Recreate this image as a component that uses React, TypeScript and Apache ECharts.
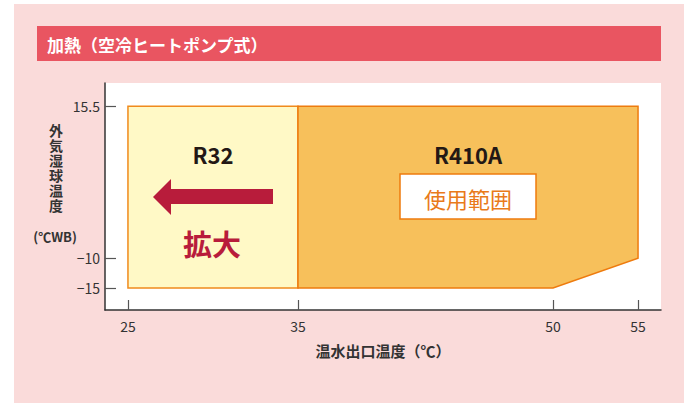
import React, { useEffect, useRef } from "react";
import * as echarts from "echarts";

const title = "加熱（空冷ヒートポンプ式）";
const xName = "温水出口温度（℃）";
const yNameChars = ["外", "気", "湿", "球", "温", "度"];
const yUnit = "(℃WB)";
const xTicks = [25, 35, 50, 55];
const yTicks = [15.5, -10, -15];
const yTickLabels = ["15.5", "−10", "−15"];

// Operating ranges: [outlet water temp, outdoor wet-bulb temp]
const r32Name = "R32";
const r32Range: number[][] = [
  [25, -15],
  [25, 15.5],
  [35, 15.5],
  [35, -15],
];
const r410Name = "R410A";
const r410Range: number[][] = [
  [35, -15],
  [35, 15.5],
  [55, 15.5],
  [55, -10],
  [50, -15],
];
const rangeLabel = "使用範囲";
const expandLabel = "拡大";

const FONT = "'Noto Sans CJK JP', 'Noto Sans', sans-serif";

export default function App() {
  const ref = useRef<HTMLDivElement>(null);
  useEffect(() => {
    if (!ref.current) return;
    const chart = echarts.init(ref.current, null, { renderer: "svg" });
    const polys = [
      { name: r32Name, pts: r32Range, fill: "#FFF9C6", stroke: "#F08A1C" },
      { name: r410Name, pts: r410Range, fill: "#F7C05B", stroke: "#EE7B0E" },
    ];
    chart.setOption({
      animation: false,
      backgroundColor: "transparent",
      textStyle: { fontFamily: FONT },
      grid: { left: 105, right: 30, top: 83, bottom: 93, containLabel: false, show: true, backgroundColor: "#ffffff", borderWidth: 0 },
      xAxis: {
        type: "value",
        min: 23.65,
        max: 56.35,
        name: xName,
        nameLocation: "middle",
        nameGap: 33,
        nameTextStyle: { fontSize: 15, fontWeight: "bold", color: "#333", fontFamily: FONT },
        splitLine: { show: false },
        axisLine: { show: true, onZero: false, lineStyle: { color: "#333", width: 1.5 } },
        axisTick: { show: true, inside: true, length: 10, customValues: xTicks, lineStyle: { color: "#555", width: 1.2 } },
        axisLabel: {
          customValues: xTicks,
          margin: 9,
          fontSize: 14,
          color: "#333",
          fontFamily: FONT,
        },
      },
      yAxis: {
        type: "value",
        min: -18.7,
        max: 19.4,
        splitLine: { show: false },
        axisLine: { show: true, onZero: false, lineStyle: { color: "#333", width: 1.5 } },
        axisTick: { show: true, inside: true, length: 11, customValues: yTicks, lineStyle: { color: "#555", width: 1.2 } },
        axisLabel: {
          customValues: yTicks,
          margin: 5,
          fontSize: 14,
          color: "#333",
          fontFamily: FONT,
          formatter: (v: number) => {
            const i = yTicks.findIndex((t) => Math.abs(t - v) < 1e-6);
            return i >= 0 ? yTickLabels[i] : "";
          },
        },
      },
      series: [
        {
          type: "custom",
          coordinateSystem: "cartesian2d",
          data: polys.map((p, i) => [i]),
          renderItem: (params: any, api: any) => {
            const p = polys[params.dataIndex];
            const points = p.pts.map((pt) => api.coord(pt));
            return {
              type: "polygon",
              shape: { points },
              style: { fill: p.fill, stroke: p.stroke, lineWidth: 1.5 },
            };
          },
          silent: true,
        },
      ],
      graphic: [
        { type: "rect", z: -10, shape: { x: 14, y: 4, width: 670, height: 420 }, style: { fill: "#FADBDA" } },
        { type: "rect", z: -5, shape: { x: 37, y: 26, width: 624, height: 35 }, style: { fill: "#E95561" } },
        {
          type: "text",
          z: 10,
          x: 47,
          y: 44,
          style: { text: title, fill: "#ffffff", fontSize: 17, fontWeight: "bold", fontFamily: FONT, verticalAlign: "middle" },
        },
        {
          type: "text",
          z: 10,
          x: 56,
          y: 122,
          style: {
            text: yNameChars.join("\n"),
            fill: "#333",
            fontSize: 14,
            lineHeight: 15,
            fontWeight: "bold",
            fontFamily: FONT,
            align: "center",
            verticalAlign: "top",
          },
        },
        {
          type: "text",
          z: 10,
          x: 55,
          y: 236,
          style: { text: yUnit, fill: "#333", fontSize: 13, fontWeight: "bold", fontFamily: FONT, align: "center", verticalAlign: "middle" },
        },
        {
          type: "text",
          z: 10,
          x: 213,
          y: 154,
          style: { text: r32Name, fill: "#231815", fontSize: 22, fontWeight: "bold", fontFamily: FONT, align: "center", verticalAlign: "middle" },
        },
        {
          type: "text",
          z: 10,
          x: 468,
          y: 154,
          style: { text: r410Name, fill: "#231815", fontSize: 22, fontWeight: "bold", fontFamily: FONT, align: "center", verticalAlign: "middle" },
        },
        {
          type: "rect",
          z: 10,
          shape: { x: 400, y: 174, width: 136, height: 45 },
          style: { fill: "#ffffff", stroke: "#EE7B0E", lineWidth: 1.5 },
        },
        {
          type: "text",
          z: 11,
          x: 468,
          y: 198,
          style: { text: rangeLabel, fill: "#E97A1B", fontSize: 22, fontFamily: FONT, align: "center", verticalAlign: "middle" },
        },
        {
          type: "polygon",
          z: 10,
          shape: {
            points: [
              [153, 197],
              [171, 179],
              [171, 189],
              [273, 189],
              [273, 204],
              [171, 204],
              [171, 215],
            ],
          },
          style: { fill: "#B81C3B" },
        },
        {
          type: "text",
          z: 10,
          x: 212,
          y: 243,
          style: { text: expandLabel, fill: "#B81C3B", fontSize: 29, fontWeight: "bold", fontFamily: FONT, align: "center", verticalAlign: "middle" },
        },
      ],
    });
    return () => chart.dispose();
  }, []);
  return <div ref={ref} style={{ width: 691, height: 403, position: "absolute", left: 0, top: 0 }} />;
}
